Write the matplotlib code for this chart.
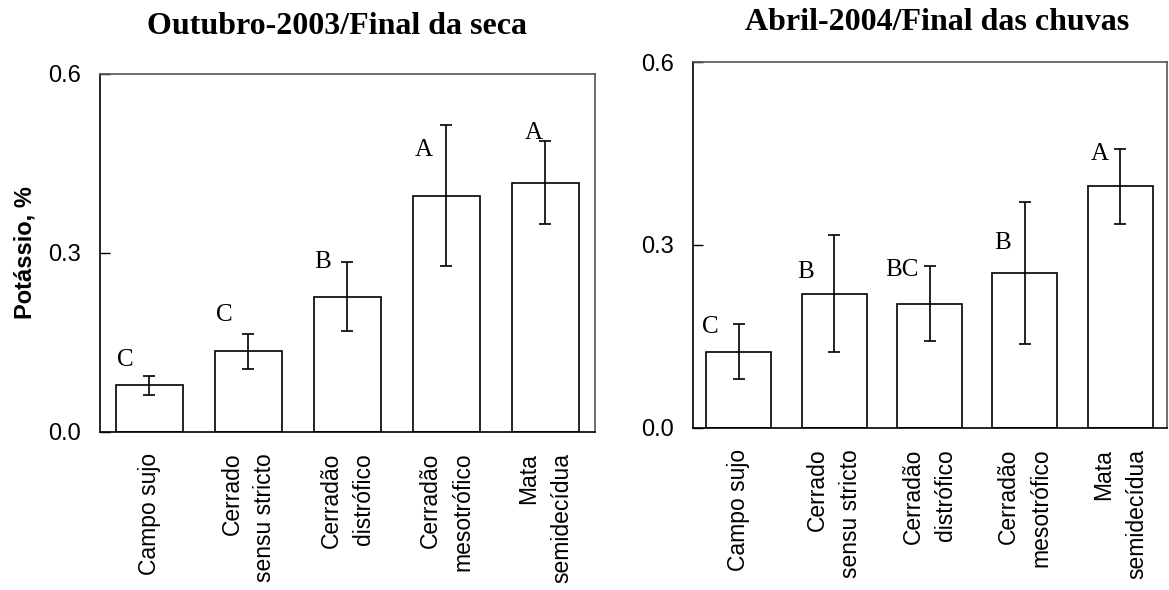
import numpy as np
import matplotlib.pyplot as plt

categorias = ['Campo sujo', 'Cerrado\nsensu stricto', 'Cerradão\ndistrófico',
              'Cerradão\nmesotrófico', 'Mata\nsemidecídua']

# Outubro-2003 / final da seca
k_seca = [0.078, 0.135, 0.227, 0.396, 0.418]
erro_seca = [0.016, 0.029, 0.058, 0.118, 0.069]
letras_seca = ['C', 'C', 'B', 'A', 'A']

# Abril-2004 / final das chuvas
k_chuva = [0.125, 0.220, 0.204, 0.254, 0.396]
erro_chuva = [0.045, 0.096, 0.061, 0.117, 0.061]
letras_chuva = ['C', 'B', 'BC', 'B', 'A']

# posicao das letras (deslocamento em x, altura em y)
pos_seca = [(-0.24, 0.121), (-0.24, 0.196), (-0.25, 0.285), (-0.23, 0.473), (-0.12, 0.501)]
pos_chuva = [(-0.30, 0.165), (-0.30, 0.256), (-0.29, 0.259), (-0.23, 0.303), (-0.21, 0.449)]

SANS = 'Liberation Sans'
SERIF = 'Liberation Serif'


def painel(ax, valores, erros, letras, pos, xlim):
    x = np.arange(len(categorias))
    ax.bar(x, valores, width=0.68, color='white', edgecolor='black', linewidth=1.2)
    ax.errorbar(x, valores, yerr=erros, fmt='none', ecolor='black',
                elinewidth=1.2, capsize=4, capthick=1.2)
    for xi, l, (dx, y) in zip(x, letras, pos):
        ax.text(xi + dx, y, l, ha='center', va='center', fontsize=18, family=SERIF)
    ax.set_xlim(xlim)
    ax.set_ylim(0, 0.6)
    ax.set_yticks([0, 0.3, 0.6])
    ax.set_yticklabels(['0.0', '0.3', '0.6'], family=SANS, fontsize=17)
    ax.tick_params(axis='y', direction='in', length=7, width=1, pad=14)
    ax.set_xticks(x)
    ax.set_xticklabels(categorias, rotation=90, family=SANS, fontsize=16.5,
                       multialignment='right', linespacing=1.55)
    ax.tick_params(axis='x', length=0, pad=15)
    for s in ['left', 'bottom']:
        ax.spines[s].set_linewidth(1.2)
        ax.spines[s].set_color('black')
    for s in ['top', 'right']:
        ax.spines[s].set_linewidth(1.2)
        ax.spines[s].set_color('#555555')


fig = plt.figure(figsize=(11.69, 5.9), dpi=100)
ax1 = fig.add_axes([0.0855, 0.2678, 0.4234, 0.6068])
ax2 = fig.add_axes([0.5928, 0.2746, 0.4055, 0.6203])

painel(ax1, k_seca, erro_seca, letras_seca, pos_seca, (-0.5, 4.5))
painel(ax2, k_chuva, erro_chuva, letras_chuva, pos_chuva, (-0.48, 4.49))

ax1.set_ylabel('Potássio, %', family=SANS, fontsize=17, fontweight='bold', labelpad=8)

fig.text(337 / 1169, 1 - 26 / 590, 'Outubro-2003/Final da seca', ha='center', va='center',
         family=SERIF, fontweight='bold', fontsize=23)
fig.text(937 / 1169, 1 - 23 / 590, 'Abril-2004/Final das chuvas', ha='center', va='center',
         family=SERIF, fontweight='bold', fontsize=23)

fig.savefig('out.png', dpi=100)
